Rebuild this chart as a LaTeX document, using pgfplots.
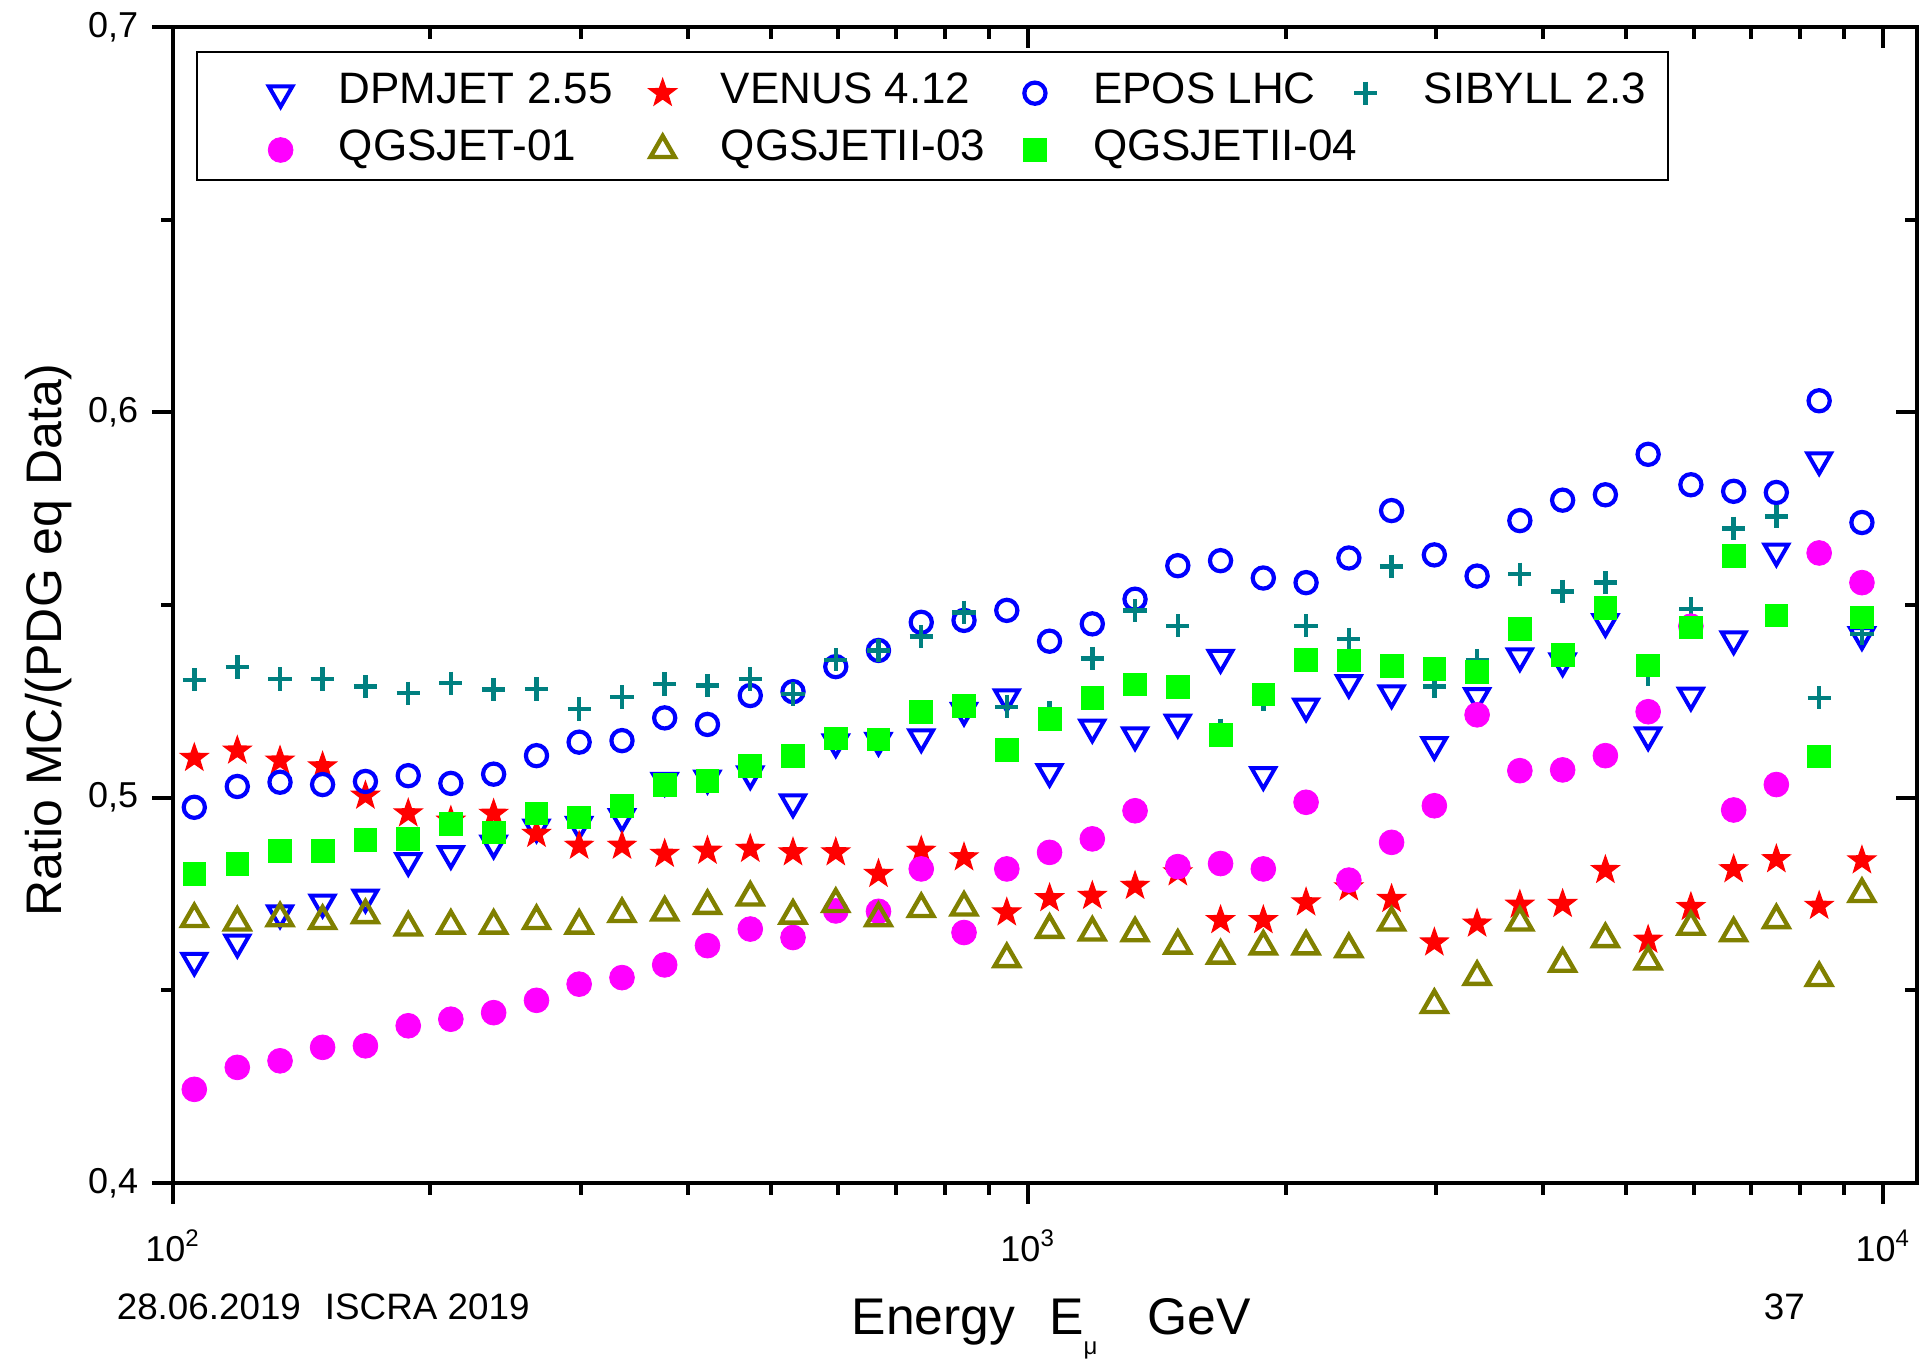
\documentclass[border=0pt]{standalone}
\usepackage{fontspec}
\setmainfont{Liberation Sans}
\usepackage{pgfplots}
\usepackage{pgfplotstable}
\pgfplotsset{compat=1.18}

\definecolor{cdpm}{RGB}{0,0,255}
\definecolor{cvenus}{RGB}{255,0,0}
\definecolor{cepos}{RGB}{0,0,255}
\definecolor{csib}{RGB}{0,128,128}
\definecolor{cqa}{RGB}{255,0,255}
\definecolor{cqb}{RGB}{128,128,0}
\definecolor{cqc}{RGB}{0,255,0}

% filled five-pointed star
\pgfdeclareplotmark{fstar}{%
  \pgfpathmoveto{\pgfpointpolar{90}{\pgfplotmarksize}}%
  \pgfpathlineto{\pgfpointpolar{126}{0.4\pgfplotmarksize}}%
  \pgfpathlineto{\pgfpointpolar{162}{\pgfplotmarksize}}%
  \pgfpathlineto{\pgfpointpolar{198}{0.4\pgfplotmarksize}}%
  \pgfpathlineto{\pgfpointpolar{234}{\pgfplotmarksize}}%
  \pgfpathlineto{\pgfpointpolar{270}{0.4\pgfplotmarksize}}%
  \pgfpathlineto{\pgfpointpolar{306}{\pgfplotmarksize}}%
  \pgfpathlineto{\pgfpointpolar{342}{0.4\pgfplotmarksize}}%
  \pgfpathlineto{\pgfpointpolar{18}{\pgfplotmarksize}}%
  \pgfpathlineto{\pgfpointpolar{54}{0.4\pgfplotmarksize}}%
  \pgfpathclose
  \pgfusepathqfillstroke
}

% muon energy E (GeV) and ratio MC / PDG-equation data for each model
\pgfplotstableread{
E dpm venus epos sib q01 q03 q04
105.9 0.4577 0.5103 0.4975 0.5306 0.4243 0.4685 0.4802
118.9 0.4624 0.5122 0.5029 0.5339 0.4300 0.4676 0.4829
133.4 0.4700 0.5096 0.5040 0.5308 0.4317 0.4687 0.4862
149.6 0.4728 0.5081 0.5034 0.5308 0.4352 0.4680 0.4862
167.9 0.4741 0.5005 0.5042 0.5288 0.4356 0.4695 0.4891
188.4 0.4836 0.4959 0.5057 0.5271 0.4408 0.4663 0.4893
211.3 0.4854 0.4940 0.5037 0.5297 0.4425 0.4668 0.4932
237.1 0.4881 0.4958 0.5061 0.5281 0.4442 0.4668 0.4910
266.1 0.4923 0.4906 0.5109 0.5282 0.4474 0.4680 0.4959
298.5 0.4930 0.4875 0.5144 0.5230 0.4516 0.4668 0.4949
335.0 0.4950 0.4875 0.5148 0.5261 0.4533 0.4698 0.4979
375.8 0.5044 0.4854 0.5207 0.5295 0.4566 0.4702 0.5034
421.7 0.5050 0.4862 0.5190 0.5291 0.4616 0.4719 0.5044
473.2 0.5061 0.4867 0.5265 0.5308 0.4659 0.4741 0.5083
530.9 0.4988 0.4858 0.5275 0.5269 0.4637 0.4694 0.5109
595.7 0.5144 0.4858 0.5340 0.5358 0.4706 0.4724 0.5154
668.3 0.5148 0.4802 0.5382 0.5382 0.4705 0.4687 0.5151
749.9 0.5157 0.4862 0.5455 0.5418 0.4815 0.4711 0.5222
841.4 0.5226 0.4845 0.5460 0.5481 0.4650 0.4715 0.5239
944.1 0.5261 0.4702 0.5486 0.5236 0.4815 0.4581 0.5124
1059.3 0.5067 0.4739 0.5406 0.5220 0.4858 0.4657 0.5204
1188.5 0.5182 0.4745 0.5451 0.5361 0.4893 0.4650 0.5258
1333.5 0.5162 0.4771 0.5515 0.5486 0.4966 0.4648 0.5294
1496.2 0.5195 0.4806 0.5602 0.5446 0.4821 0.4616 0.5288
1678.8 0.5363 0.4682 0.5615 0.5175 0.4829 0.4590 0.5162
1883.6 0.5059 0.4682 0.5570 0.5255 0.4815 0.4614 0.5268
2113.5 0.5237 0.4728 0.5558 0.5446 0.4988 0.4614 0.5358
2371.4 0.5298 0.4767 0.5622 0.5411 0.4786 0.4607 0.5356
2660.7 0.5271 0.4737 0.5745 0.5600 0.4884 0.4676 0.5341
2985.4 0.5137 0.4624 0.5630 0.5288 0.4979 0.4462 0.5334
3349.7 0.5264 0.4673 0.5575 0.5356 0.5215 0.4535 0.5326
3758.4 0.5367 0.4722 0.5719 0.5580 0.5070 0.4676 0.5438
4217.0 0.5354 0.4724 0.5772 0.5535 0.5072 0.4569 0.5371
4731.5 0.5456 0.4812 0.5786 0.5558 0.5109 0.4633 0.5493
5308.8 0.5162 0.4631 0.5891 0.5320 0.5223 0.4575 0.5343
5956.6 0.5265 0.4716 0.5812 0.5490 0.5445 0.4665 0.5442
6683.4 0.5411 0.4814 0.5795 0.5699 0.4968 0.4648 0.5628
7498.9 0.5639 0.4840 0.5792 0.5730 0.5034 0.4682 0.5473
8414.0 0.5876 0.4719 0.6030 0.5259 0.5635 0.4532 0.5107
9440.6 0.5422 0.4837 0.5714 0.5425 0.5558 0.4750 0.5468
}\ratios

\pgfplotsset{
  common/.style={
    at={(0,0)}, anchor=south west,
    scale only axis, width=436pt, height=289pt,
    xmin=100, xmax=10950, ymin=0.4, ymax=0.7,
    xtick={100,1000,10000},
    minor xtick={200,300,400,500,600,700,800,900,2000,3000,4000,5000,6000,7000,8000,9000},
    ytick={0.4,0.5,0.6,0.7}, minor ytick={0.45,0.55,0.65},
    major tick length=5.2pt, minor tick length=3pt,
    tick style={line width=1pt, black},
    axis line style={line width=1pt},
  },
}

\begin{document}
\begin{tikzpicture}
% inward ticks on the top and right edges
\begin{semilogxaxis}[common, xtick pos=right, ytick pos=right, tick align=inside,
  xticklabels={}, yticklabels={}]
\end{semilogxaxis}

\begin{semilogxaxis}[common, xtick pos=left, ytick pos=left, tick align=outside,
  xticklabels={10\textsuperscript{2},10\textsuperscript{3},10\textsuperscript{4}},
  xticklabel style={font=\fontsize{9}{10}\selectfont, yshift=-3pt},
  yticklabel style={font=\fontsize{9}{10}\selectfont,
    /pgf/number format/.cd, use comma, fixed, fixed zerofill, precision=1, assume math mode=true},
  legend columns=4, legend cell align=left,
  legend image code/.code={%
    \path[draw=none, fill=none] (-12pt,-1.4pt) -- (6pt,-1.4pt);
    \draw[#1] plot coordinates {(0pt,-1.4pt)};},
  legend style={at={(0,1)}, anchor=north west, xshift=5.75pt, yshift=-6pt,
    draw=black, line width=0.5pt, font=\fontsize{11}{12}\selectfont,
    inner xsep=8.9pt, inner ysep=3pt, row sep=2.4pt,
    nodes={inner xsep=3.5pt, inner ysep=1pt, text height=9pt, text depth=0.8pt},
    /tikz/every odd column/.append style={column sep=5.05pt},
    /tikz/every even column/.append style={column sep=-3pt}},
]
\addplot[only marks, draw=cdpm, mark=triangle, mark size=3.4pt, line width=1pt,
  mark options={rotate=180}] table[x=E, y=dpm] {\ratios};
\addlegendentry{DPMJET 2.55}
\addplot[only marks, draw=cvenus, fill=cvenus, mark=fstar, mark size=3.6pt, line width=0.3pt]
  table[x=E, y=venus] {\ratios};
\addlegendentry{VENUS 4.12}
\addplot[only marks, draw=cepos, mark=o, mark size=2.65pt, line width=1.05pt]
  table[x=E, y=epos] {\ratios};
\addlegendentry{EPOS LHC}
\addplot[only marks, draw=csib, mark=+, mark size=2.9pt, line width=1.1pt]
  table[x=E, y=sib] {\ratios};
\addlegendentry{\makebox[48.7pt][l]{SIBYLL 2.3}}
\addplot[only marks, draw=cqa, fill=cqa, mark=*, mark size=3.1pt, line width=0.2pt]
  table[x=E, y=q01] {\ratios};
\addlegendentry{QGSJET-01}
\addplot[only marks, draw=cqb, mark=triangle, mark size=3.5pt, line width=1.1pt]
  table[x=E, y=q03] {\ratios};
\addlegendentry{QGSJETII-03}
\addplot[only marks, draw=cqc, fill=cqc, mark=square*, mark size=2.85pt, line width=0.2pt]
  table[x=E, y=q04] {\ratios};
\addlegendentry{\makebox[0pt][l]{QGSJETII-04}}
\end{semilogxaxis}

% axis titles and footer
\node[rotate=90, font=\fontsize{12.5}{14}\selectfont] at (-31pt,135.8pt) {Ratio MC/(PDG eq Data)};
\node[anchor=base west, inner sep=0pt, font=\fontsize{12.9}{14}\selectfont] at (169.5pt,-38pt)
  {Energy\hspace{8.5pt}E\rlap{\raisebox{-5pt}{\fontsize{6}{6}\selectfont μ}}\hspace{16pt}GeV};
\node[anchor=base west, inner sep=0pt, font=\fontsize{9.2}{10}\selectfont] at (-14.25pt,-34.25pt)
  {28.06.2019\hspace{6pt}ISCRA 2019};
\node[anchor=base west, inner sep=0pt, font=\fontsize{9.2}{10}\selectfont] at (397.5pt,-34.25pt) {37};

\pgfresetboundingbox
\useasboundingbox (-43.25pt,-44pt) rectangle (436.75pt,295.75pt);
\end{tikzpicture}
\end{document}
